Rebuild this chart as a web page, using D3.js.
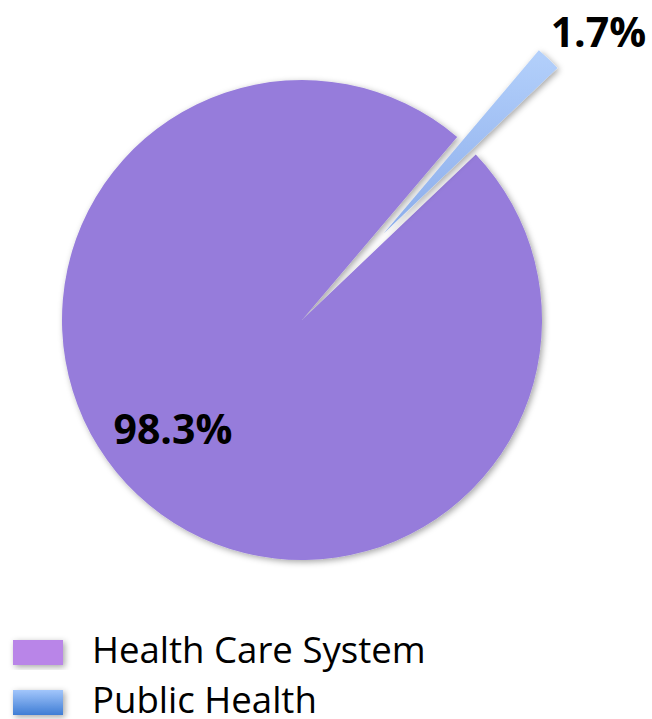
<!DOCTYPE html>
<html>
<head>
<meta charset="utf-8">
<script src="https://cdn.jsdelivr.net/npm/d3@7"></script>
<style>
	html, body { margin: 0; padding: 0; background: #fff; }
	svg { display: block; }
</style>
</head>
<body>
<div id="chart"></div>
<script>
const categories = ["Health Care System", "Public Health"];
const shares = [98.3, 1.7];
const labels = ["98.3%", "1.7%"];

const W = 652, H = 719;
const cx = 302, cy = 320, R = 240;
const explode = 119;
const start = 46.4 * Math.PI / 180;

const svg = d3.select("#chart").append("svg")
	.attr("width", W)
	.attr("height", H);

const defs = svg.append("defs");

const shadow = defs.append("filter")
	.attr("id", "shadow")
	.attr("x", "-20%").attr("y", "-20%")
	.attr("width", "140%").attr("height", "140%");
shadow.append("feDropShadow")
	.attr("dx", 2).attr("dy", 2)
	.attr("stdDeviation", 3)
	.attr("flood-color", "#000")
	.attr("flood-opacity", 0.35);

// slice fills
const gBlue = defs.append("linearGradient")
	.attr("id", "blue-slice")
	.attr("x1", 0).attr("y1", 0).attr("x2", 0).attr("y2", 1);
gBlue.append("stop").attr("offset", "0%").attr("stop-color", "#b3d0fb");
gBlue.append("stop").attr("offset", "100%").attr("stop-color", "#8cadeb");

const gBlueKey = defs.append("linearGradient")
	.attr("id", "blue-key")
	.attr("x1", 0).attr("y1", 0).attr("x2", 0).attr("y2", 1);
gBlueKey.append("stop").attr("offset", "0%").attr("stop-color", "#a2c6fb");
gBlueKey.append("stop").attr("offset", "100%").attr("stop-color", "#3f7dd5");

const fills = ["#967cdb", "url(#blue-slice)"];
const keyFills = ["#b985e8", "url(#blue-key)"];

const pie = d3.pie()
	.sort(null)
	.startAngle(start)
	.endAngle(start + 2 * Math.PI);

const arcs = pie(shares);

const arc = d3.arc()
	.innerRadius(0)
	.outerRadius(R);

const g = svg.append("g")
	.attr("transform", `translate(${cx},${cy})`);

g.selectAll("path")
	.data(arcs)
	.enter().append("path")
	.attr("d", arc)
	.attr("fill", (d, i) => fills[i])
	.attr("filter", "url(#shadow)")
	.attr("transform", (d, i) => {
		if (i === 0) return null;
		const m = (d.startAngle + d.endAngle) / 2;
		return `translate(${explode * Math.sin(m)},${-explode * Math.cos(m)})`;
	});

// data labels
const labelArc = d3.arc().innerRadius(172).outerRadius(172);
const labelPos = [
	d => { const c = labelArc.centroid(d); return [c[0] - 11, c[1] - 17]; },
	d => {
		const m = (d.startAngle + d.endAngle) / 2;
		const r = R + explode;
		return [r * Math.sin(m) + 50, -r * Math.cos(m) - 28];
	}
];

g.selectAll("text.lbl")
	.data(arcs)
	.enter().append("text")
	.attr("class", "lbl")
	.attr("x", (d, i) => labelPos[i](d)[0])
	.attr("y", (d, i) => labelPos[i](d)[1])
	.attr("text-anchor", "middle")
	.attr("dominant-baseline", "central")
	.style("font-family", "'Open Sans', sans-serif")
	.style("font-weight", "bold")
	.style("font-size", "41px")
	.text((d, i) => labels[i]);

// legend
const legend = svg.append("g")
	.attr("transform", "translate(13,640)");

const row = legend.selectAll("g")
	.data(categories)
	.enter().append("g")
	.attr("transform", (d, i) => `translate(0,${i * 50})`);

row.append("rect")
	.attr("width", 50)
	.attr("height", 25)
	.attr("fill", (d, i) => keyFills[i])
	.attr("filter", "url(#shadow)");

row.append("text")
	.attr("x", 79)
	.attr("y", 23)
	.style("font-family", "'Open Sans', sans-serif")
	.style("font-size", "36.6px")
	.style("fill", "#000")
	.text(d => d);
</script>
</body>
</html>
